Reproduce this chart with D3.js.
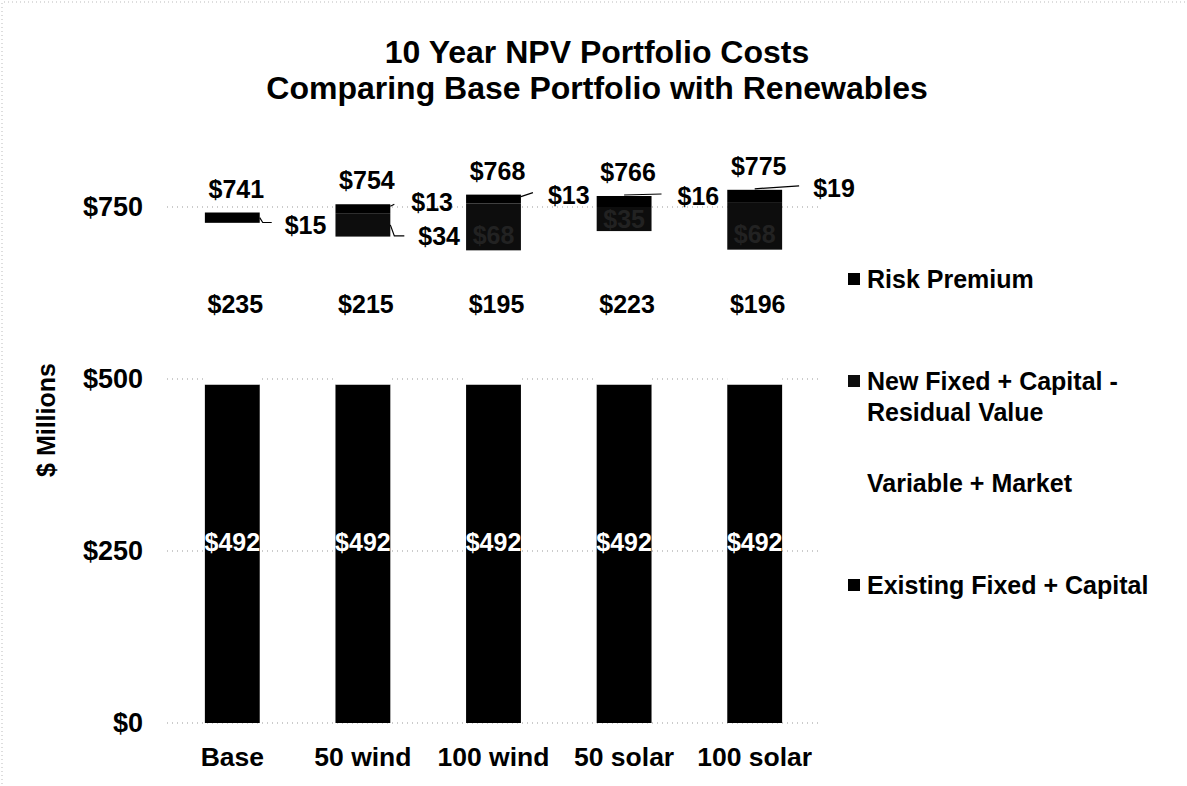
<!DOCTYPE html>
<html>
<head>
<meta charset="utf-8">
<script src="https://cdn.jsdelivr.net/npm/d3@7"></script>
<style>
  html, body { margin: 0; padding: 0; background: #fff; }
  svg { display: block; }
  text { font-family: "Liberation Sans", Arial, sans-serif; font-weight: bold; }
</style>
</head>
<body>
<svg id="chart" width="1187" height="786"></svg>
<script>
// ---- data ----
const categories = ["Base", "50 wind", "100 wind", "50 solar", "100 solar"];
const existingFixed = [492, 492, 492, 492, 492];
const variableMarket = [235, 215, 195, 223, 196];
const newFixed = [0, 34, 68, 35, 68];
const riskPremium = [15, 13, 13, 16, 19];
const totals = [741, 754, 768, 766, 775];
const yTicks = [0, 250, 500, 750];
const seriesNames = ["Existing Fixed + Capital", "Variable + Market", "New Fixed + Capital - Residual Value", "Risk Premium"];

const svg = d3.select("#chart");
const W = 1187, H = 786;

// scales
const x = d3.scaleBand().domain(categories).range([167, 820]).paddingInner(0.58).paddingOuter(0.29);
const y = d3.scaleLinear().domain([0, 750]).range([723, 207]);

// faint scan border
svg.append("path").attr("d", `M2,${H-2} L2,2 L${W-2},2`).attr("fill", "none")
  .attr("stroke", "#bbb").attr("stroke-dasharray", "1,3").attr("stroke-width", 1);

// title
const title = svg.append("text").attr("x", 597).attr("text-anchor", "middle").attr("font-size", 32).attr("fill", "#000");
title.append("tspan").attr("x", 597).attr("y", 63).text("10 Year NPV Portfolio Costs");
title.append("tspan").attr("x", 597).attr("y", 99).text("Comparing Base Portfolio with Renewables");

// gridlines
svg.append("g").selectAll("line").data(yTicks).join("line")
  .attr("x1", x.range()[0]).attr("x2", x.range()[1])
  .attr("y1", d => y(d)).attr("y2", d => y(d))
  .attr("stroke", "#999").attr("stroke-width", 1).attr("stroke-dasharray", "1,4");

// y axis (labels only)
const yAxis = d3.axisLeft(y).tickValues(yTicks).tickFormat(d => "$" + d).tickSize(0).tickPadding(0);
const yg = svg.append("g").attr("transform", "translate(143,0)").call(yAxis);
yg.select(".domain").remove();
yg.selectAll("text").attr("font-size", 27).attr("fill", "#000")
  .attr("font-family", '"Liberation Sans", Arial, sans-serif').attr("font-weight", "bold");

// y title
svg.append("text").attr("transform", "translate(46,420) rotate(-90)")
  .attr("text-anchor", "middle").attr("dominant-baseline", "central")
  .attr("font-size", 25).attr("fill", "#000").text("$ Millions");

// x axis labels
const xAxis = d3.axisBottom(x).tickSize(0).tickPadding(0);
const xg = svg.append("g").attr("transform", "translate(0,747)").call(xAxis);
xg.select(".domain").remove();
xg.selectAll("text").attr("font-size", 26.5).attr("fill", "#000")
  .attr("font-family", '"Liberation Sans", Arial, sans-serif').attr("font-weight", "bold");

// stacked data
const rows = categories.map((c, i) => ({
  cat: c, existing: existingFixed[i], variable: variableMarket[i], newf: newFixed[i], risk: riskPremium[i], total: totals[i]
}));
const keys = ["existing", "variable", "newf", "risk"];
const colors = { existing: "#000", variable: "#fff", newf: "#0d0d0d", risk: "#000" };
const stacked = d3.stack().keys(keys)(rows);

const bw = x.bandwidth();
svg.append("g").selectAll("g").data(stacked).join("g")
  .attr("fill", s => colors[s.key])
  .selectAll("rect").data(s => s.filter(d => d[1] - d[0] > 0)).join("rect")
  .attr("x", d => x(d.data.cat)).attr("width", bw)
  .attr("y", d => y(d[1])).attr("height", d => y(d[0]) - y(d[1]));

// labels: existing (white, centered)
svg.append("g").selectAll("text").data(rows).join("text")
  .attr("x", d => x(d.cat) + bw / 2).attr("y", d => y(d.existing / 2) - 12)
  .attr("text-anchor", "middle").attr("dominant-baseline", "central")
  .attr("font-size", 25).attr("fill", "#fff").text(d => "$" + d.existing);

// labels: variable (hidden white segment)
svg.append("g").selectAll("text").data(rows).join("text")
  .attr("x", d => x(d.cat) + bw / 2 + 3).attr("y", d => y(d.existing) - 81)
  .attr("text-anchor", "middle").attr("dominant-baseline", "central")
  .attr("font-size", 25).attr("fill", "#000").text(d => "$" + d.variable);

// totals
svg.append("g").selectAll("text").data(rows).join("text")
  .attr("x", d => x(d.cat) + bw / 2 + 4).attr("y", d => y(d.existing + d.variable + d.newf + d.risk) - 24)
  .attr("text-anchor", "middle").attr("dominant-baseline", "central")
  .attr("font-size", 25).attr("fill", "#000").text(d => "$" + d.total);

// new fixed labels: inside (dark) when large, outside with leader when small
const lg = svg.append("g");
rows.forEach((d, i) => {
  if (d.newf <= 0) return;
  const x0 = x(d.cat), mid = y(d.existing + d.variable + d.newf / 2);
  if (d.newf >= 50 || i === 3) {
    lg.append("text").attr("x", x0 + bw / 2).attr("y", mid + (i === 3 ? 0 : 8))
      .attr("text-anchor", "middle").attr("dominant-baseline", "central")
      .attr("font-size", 25).attr("fill", "#222").text("$" + d.newf);
  } else {
    const yb = y(d.existing + d.variable + 4);
    lg.append("path").attr("d", `M${x0 + bw},${mid} L${x0 + bw + 4},${yb + 2} L${x0 + bw + 14},${yb + 2}`)
      .attr("fill", "none").attr("stroke", "#000").attr("stroke-width", 1.2);
    lg.append("text").attr("x", x0 + bw + 28).attr("y", yb + 2)
      .attr("dominant-baseline", "central").attr("font-size", 25).attr("fill", "#000").text("$" + d.newf);
  }
});

// risk premium labels with leader lines
const riskLayout = [
  { dx1: 3, dy1: 10, lx: 25, ly: 12 },
  { dx1: 4, dy1: 0, lx: 21, ly: -2 },
  { dx1: 12, dy1: -2, lx: 27, ly: 0 },
  { dx1: 10, dy1: -2, lx: 26, ly: 0 },
  { dx1: 17, dy1: -4, lx: 31, ly: -2 }
];
rows.forEach((d, i) => {
  const x0 = x(d.cat), top = y(d.existing + d.variable + d.newf + d.risk);
  const L = riskLayout[i];
  let path;
  if (i === 0) {
    const midY = y(d.existing + d.variable + d.risk / 2);
    path = `M${x0 + bw},${midY} L${x0 + bw + 3},${top + L.dy1} L${x0 + bw + 12},${top + L.dy1}`;
  } else if (i >= 3) {
    path = `M${x0 + bw / 2},${top - 1} L${x0 + bw + L.dx1},${top + L.dy1}`;
  } else {
    path = `M${x0 + bw},${top + 2} L${x0 + bw + L.dx1},${top + L.dy1}`;
  }
  lg.append("path").attr("d", path).attr("fill", "none").attr("stroke", "#000").attr("stroke-width", 1.2);
  lg.append("text").attr("x", x0 + bw + L.lx).attr("y", top + L.ly)
    .attr("dominant-baseline", "central").attr("font-size", 25).attr("fill", "#000").text("$" + d.risk);
});

// legend
const legendItems = [
  { name: "Risk Premium", lines: ["Risk Premium"], color: "#000", y: 279 },
  { name: seriesNames[2], lines: ["New Fixed + Capital -", "Residual Value"], color: "#0d0d0d", y: 381 },
  { name: seriesNames[1], lines: ["Variable + Market"], color: "#fff", y: 483 },
  { name: seriesNames[0], lines: ["Existing Fixed + Capital"], color: "#000", y: 585 }
];
const leg = svg.append("g").selectAll("g").data(legendItems).join("g");
leg.append("rect").attr("x", 848).attr("y", d => d.y - 6).attr("width", 12).attr("height", 12).attr("fill", d => d.color);
leg.each(function (d) {
  const t = d3.select(this).append("text").attr("font-size", 25).attr("fill", "#000");
  d.lines.forEach((ln, k) => {
    t.append("tspan").attr("x", 867).attr("y", d.y + k * 31).attr("dominant-baseline", "central").text(ln);
  });
});
</script>
</body>
</html>
